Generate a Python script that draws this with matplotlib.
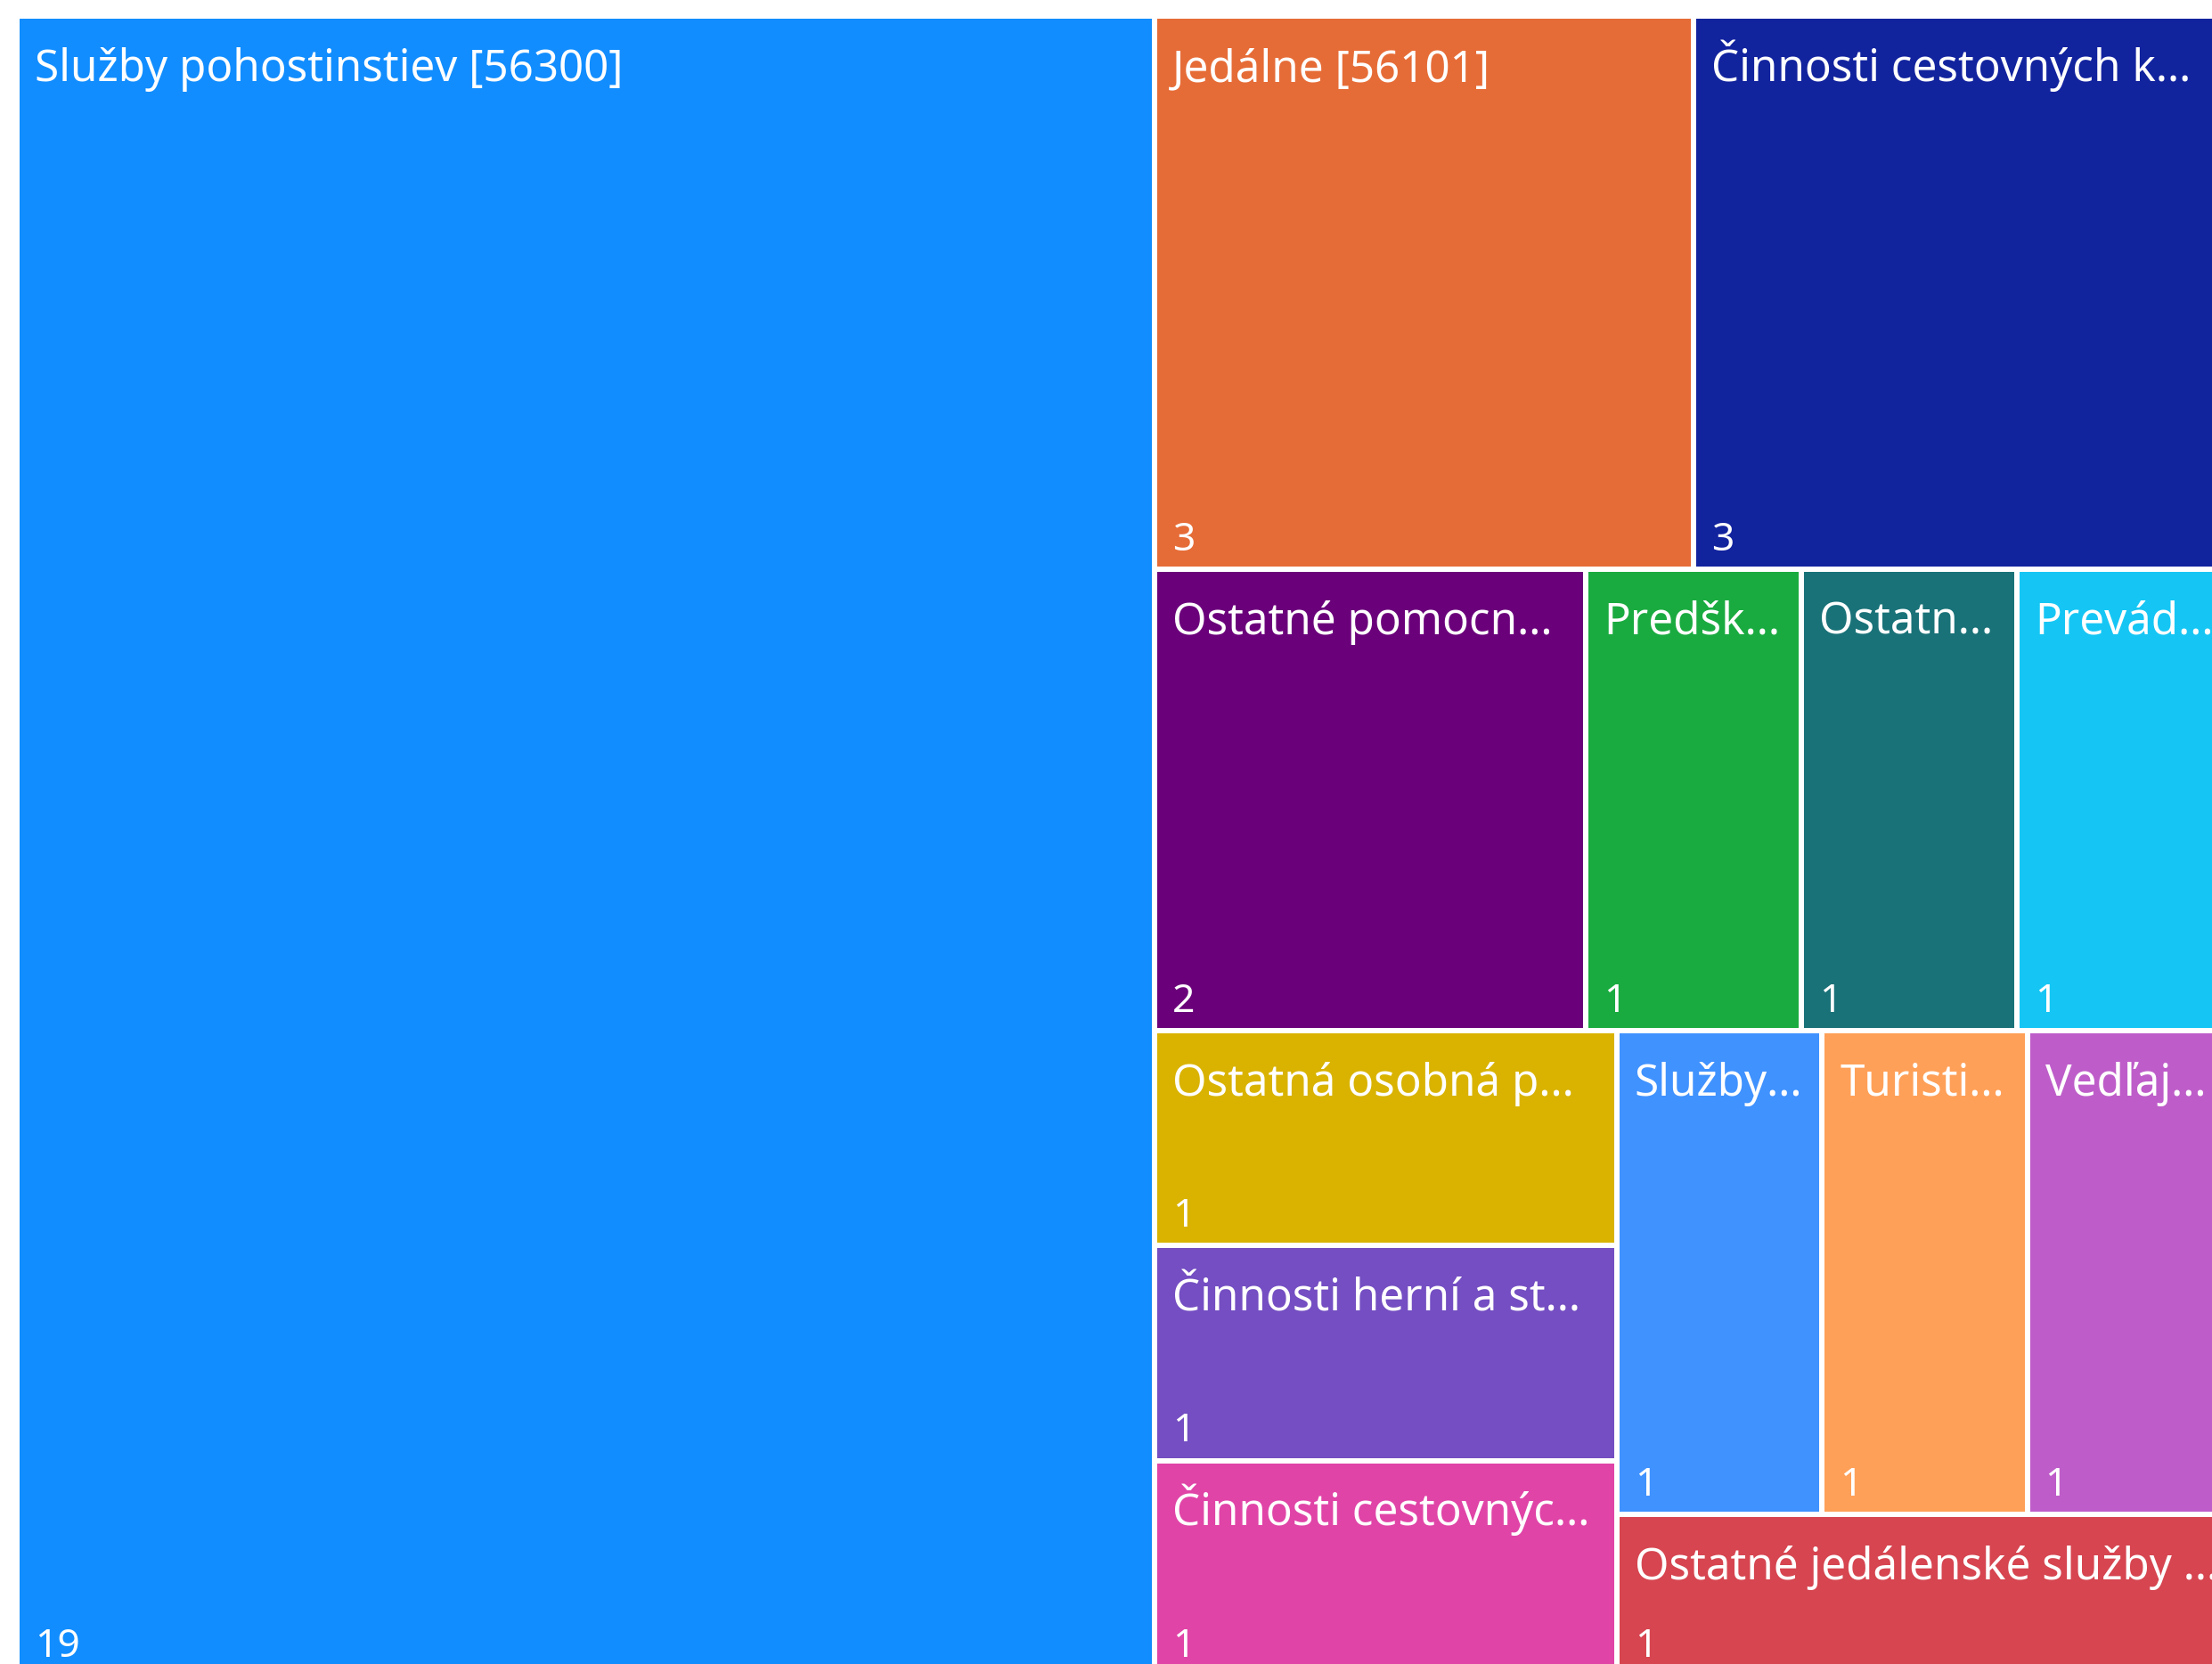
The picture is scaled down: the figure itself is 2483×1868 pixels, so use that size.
import matplotlib.pyplot as plt
from matplotlib.patches import Rectangle

plt.rcParams["font.family"] = ["Noto Sans", "DejaVu Sans"]

# Tile labels as shown (already truncated in the report) and counts
labels = [
    "Služby pohostinstiev [56300]",
    "Jedálne [56101]",
    "Činnosti cestovných k...",
    "Ostatné pomocn...",
    "Predšk...",
    "Ostatn...",
    "Prevád...",
    "Ostatná osobná p...",
    "Činnosti herní a st...",
    "Činnosti cestovnýc...",
    "Služby...",
    "Turisti...",
    "Vedľaj...",
    "Ostatné jedálenské služby ...",
]
counts = [19, 3, 3, 2, 1, 1, 1, 1, 1, 1, 1, 1, 1, 1]
colors = [
    "#118DFF", "#E66C37", "#12239E", "#6B007B", "#1AAB40", "#197278", "#15C6F4",
    "#D9B300", "#744EC2", "#E044A7", "#4092FF", "#FFA058", "#BE5DC9", "#D64550",
]


def worst_ratio(row, side, total, area):
    # row laid along 'side'; thickness proportional to its share of the area
    s = sum(row)
    thick = s / total * area / side
    r = []
    for v in row:
        length = v / s * side
        r.append(max(thick / length, length / thick))
    return max(r)


def treemap(values, x, y, w, h, limit=2.5):
    rects = []
    vals = list(values)
    while vals:
        total = sum(vals)
        area = w * h
        side = min(w, h)
        row = [vals[0]]
        best = worst_ratio(row, side, total, area)
        for v in vals[len(row):]:
            r = worst_ratio(row + [v], side, total, area)
            if r <= max(best, limit):
                row.append(v)
                best = r
            else:
                break
        s = sum(row)
        if w >= h:
            # vertical strip on the left, stacked top to bottom
            sw = s / total * w
            yy = y
            for v in row:
                hh = v / s * h
                rects.append((x, yy, sw, hh))
                yy += hh
            x += sw
            w -= sw
        else:
            # horizontal strip on top, left to right
            sh = s / total * h
            xx = x
            for v in row:
                ww = v / s * w
                rects.append((xx, y, ww, sh))
                xx += ww
            y += sh
            h -= sh
        vals = vals[len(row):]
    return rects


W, H = 2483, 1868
fig = plt.figure(figsize=(W / 100, H / 100), dpi=100)
ax = fig.add_axes([0, 0, 1, 1])
ax.set_xlim(0, W)
ax.set_ylim(H, 0)
ax.axis("off")

gap = 3
rects = treemap(counts, 19, 18, 2487, 1863)
for (x, y, w, h), lab, n, c in zip(rects, labels, counts, colors):
    ax.add_patch(Rectangle((x + gap, y + gap), w - 2 * gap, h - 2 * gap,
                           facecolor=c, edgecolor="none"))
    ax.text(x + gap + 17, y + gap + 70, lab, color="white", fontsize=35.5,
            ha="left", va="baseline")
    ax.text(x + gap + 17, y + h - gap - 18, str(n), color="white", fontsize=32,
            ha="left", va="baseline")

fig.savefig("out.png", dpi=100)
